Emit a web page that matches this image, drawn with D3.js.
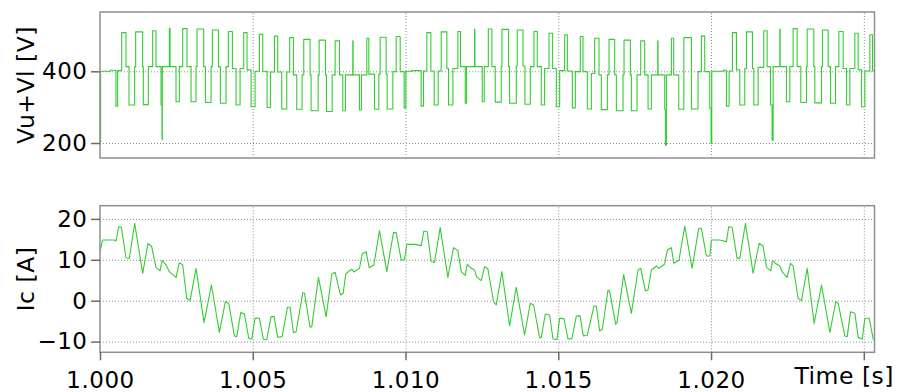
<!DOCTYPE html>
<html>
<head>
<meta charset="utf-8">
<script src="https://cdn.jsdelivr.net/npm/d3@7"></script>
<style>
  html, body { margin: 0; padding: 0; background: #fff; }
  svg { display: block; }
  text { font-family: "DejaVu Sans", Verdana, sans-serif; fill: #000; letter-spacing: 0.5px; }
</style>
</head>
<body>
<svg id="chart" width="898" height="392"></svg>
<script>
// Time origin of the record and the axis ticks
const t0 = 1.0;                                        // s
const timeTicks = [1.000, 1.005, 1.010, 1.015, 1.020, 1.025];
const timeEnd = 1.02535;                              // s
const voltTicks = [200, 400];
const curTicks = [-10, 0, 10, 20];

// Vu+Vl : switching levels, each value held from its instant until the next one (ms after t0, V)
const voltTimeMs = [
  0.000, 0.005, 0.020, 0.350, 0.523, 0.578, 0.709, 0.851, 0.949, 1.134,
  1.167, 1.396, 1.418, 1.582, 1.724, 1.833, 1.997, 2.030, 2.041, 2.270,
  2.292, 2.488, 2.597, 2.707, 2.848, 2.980, 3.143, 3.176, 3.394, 3.449,
  3.635, 3.678, 3.875, 3.940, 4.126, 4.202, 4.333, 4.454, 4.585, 4.704,
  4.813, 4.945, 5.076, 5.218, 5.327, 5.469, 5.578, 5.709, 5.818, 5.949,
  6.113, 6.210, 6.331, 6.440, 6.615, 6.669, 6.877, 6.910, 7.139, 7.172,
  7.379, 7.412, 7.598, 7.696, 7.838, 7.947, 8.034, 8.274, 8.285, 8.493,
  8.558, 8.733, 8.799, 8.984, 9.126, 9.170, 9.366, 9.399, 9.585, 9.694,
  9.825, 9.956, 10.010, 10.200, 10.513, 10.589, 10.698, 10.829, 10.938, 11.069,
  11.168, 11.353, 11.408, 11.550, 11.714, 11.801, 11.954, 11.997, 12.259, 12.270,
  12.511, 12.576, 12.710, 12.828, 12.937, 13.134, 13.156, 13.374, 13.407, 13.625,
  13.658, 13.844, 13.909, 14.084, 14.204, 14.313, 14.444, 14.553, 14.695, 14.815,
  14.935, 15.045, 15.208, 15.296, 15.459, 15.558, 15.721, 15.809, 15.951, 16.082,
  16.191, 16.333, 16.409, 16.606, 16.660, 16.846, 16.901, 17.119, 17.152, 17.359,
  17.392, 17.578, 17.698, 17.829, 17.938, 18.047, 18.255, 18.266, 18.484, 18.506,
  18.538, 18.702, 18.778, 18.942, 19.110, 19.357, 19.575, 19.685, 19.794, 19.958,
  20.001, 20.023, 20.400, 20.504, 20.591, 20.700, 20.831, 20.940, 21.104, 21.159,
  21.355, 21.399, 21.541, 21.726, 21.836, 21.945, 21.999, 22.032, 22.250, 22.261,
  22.469, 22.578, 22.687, 22.818, 22.938, 23.124, 23.146, 23.364, 23.397, 23.615,
  23.648, 23.833, 23.910, 24.074, 24.183, 24.325, 24.434, 24.543, 24.707, 24.816,
  24.925, 25.035, 25.198, 25.285, 25.350
];
const voltLevel = [
  301, 200, 400, 403, 303, 402, 508, 413, 306, 413,
  510, 413, 307, 413, 513, 413, 306, 210, 413, 520,
  413, 315, 413, 519, 413, 315, 413, 518, 413, 313,
  413, 515, 413, 311, 413, 511, 408, 306, 408, 508,
  404, 301, 400, 503, 400, 299, 398, 498, 398, 295,
  398, 494, 390, 294, 390, 489, 390, 290, 390, 487,
  390, 288, 390, 485, 390, 290, 390, 485, 390, 292,
  390, 492, 392, 294, 392, 495, 392, 295, 399, 497,
  399, 298, 400, 402, 303, 401, 508, 401, 306, 401,
  510, 408, 306, 408, 511, 413, 311, 413, 517, 413,
  315, 413, 518, 413, 314, 413, 517, 413, 311, 415,
  515, 415, 308, 413, 511, 413, 306, 408, 506, 408,
  301, 402, 502, 401, 298, 399, 497, 399, 295, 394,
  492, 390, 293, 390, 489, 390, 290, 390, 487, 390,
  290, 390, 485, 390, 295, 390, 485, 390, 294, 194,
  390, 492, 390, 294, 494, 295, 399, 498, 399, 297,
  199, 400, 403, 303, 401, 508, 404, 306, 408, 510,
  408, 306, 411, 513, 413, 306, 208, 413, 518, 413,
  315, 413, 519, 413, 313, 413, 518, 413, 312, 413,
  515, 413, 311, 413, 511, 408, 306, 408, 506, 404,
  301, 401, 502, 401, 401
];

// Ic : sampled current (ms after t0, A)
const curTimeMs = [
  0.000, 0.087, 0.469, 0.523, 0.611, 0.698, 0.851, 0.960, 1.135, 1.397,
  1.571, 1.692, 1.834, 1.965, 2.030, 2.161, 2.270, 2.489, 2.598, 2.707,
  2.838, 2.947, 3.144, 3.406, 3.646, 3.908, 4.104, 4.214, 4.399, 4.476,
  4.607, 4.727, 4.869, 4.967, 5.076, 5.218, 5.349, 5.458, 5.600, 5.698,
  5.818, 5.960, 6.135, 6.222, 6.331, 6.419, 6.637, 6.692, 6.877, 6.932,
  7.150, 7.401, 7.587, 7.696, 7.871, 7.958, 8.045, 8.166, 8.253, 8.307,
  8.493, 8.580, 8.711, 8.810, 8.963, 9.148, 9.388, 9.607, 9.694, 9.858,
  9.967, 10.043, 10.316, 10.513, 10.600, 10.709, 10.840, 10.949, 11.135, 11.386,
  11.572, 11.714, 11.823, 11.954, 12.019, 12.150, 12.259, 12.325, 12.477, 12.587,
  12.696, 12.882, 12.969, 13.155, 13.406, 13.624, 13.897, 14.083, 14.192, 14.389,
  14.443, 14.574, 14.716, 14.826, 14.957, 15.044, 15.186, 15.317, 15.448, 15.590,
  15.710, 15.819, 15.950, 16.168, 16.245, 16.354, 16.442, 16.628, 16.683, 16.879,
  16.923, 17.141, 17.392, 17.611, 17.698, 17.851, 17.938, 18.047, 18.211, 18.288,
  18.484, 18.571, 18.702, 18.779, 18.953, 19.139, 19.379, 19.598, 19.685, 19.849,
  19.958, 20.013, 20.286, 20.504, 20.580, 20.689, 20.853, 20.940, 21.126, 21.377,
  21.574, 21.705, 21.814, 21.956, 22.011, 22.142, 22.251, 22.338, 22.491, 22.600,
  22.687, 22.851, 22.961, 23.146, 23.375, 23.616, 23.889, 24.085, 24.161, 24.380,
  24.457, 24.566, 24.708, 24.817, 24.948, 25.035, 25.177, 25.308, 25.340
];
const curAmp = [
  12.0, 14.85, 14.85, 14.6, 18.1, 17.94, 10.5, 10.36, 18.92, 6.7,
  14.0, 13.2, 8.16, 7.27, 9.79, 8.73, 7.1, 5.72, 9.3, 8.73,
  0.58, 0.01, 7.92, -5.37, 3.84, -7.73, -0.23, -0.64, -8.63, -8.79,
  -2.92, -3.25, -9.2, -9.36, -4.23, -4.31, -9.44, -9.52, -3.9, -3.9,
  -8.95, -8.79, -1.62, -1.62, -7.81, -7.6, 1.96, 1.8, -6.51, -6.35,
  5.71, -3.9, 6.53, 6.94, 1.39, 1.8, 6.53, 7.34, 7.67, 7.02,
  7.91, 11.42, 11.99, 8.08, 8.73, 17.12, 7.1, 16.71, 16.63, 9.95,
  9.95, 13.78, 13.78, 13.46, 17.04, 16.88, 9.54, 9.38, 17.86, 5.71,
  12.97, 12.23, 7.1, 6.2, 8.89, 7.91, 7.5, 5.87, 4.9, 8.32,
  7.75, -0.24, -1.05, 7.1, -6.19, 3.27, -8.39, -0.65, -1.05, -9.04,
  -9.04, -3.25, -3.5, -9.37, -9.45, -4.31, -4.39, -9.37, -9.28, -3.74,
  -3.66, -8.63, -8.39, -1.3, -1.3, -7.41, -6.99, 2.62, 2.21, -5.77,
  -5.37, 6.37, -3.09, 7.51, 7.92, 2.38, 2.62, 7.51, 8.49, 7.92,
  8.98, 12.4, 12.97, 9.14, 9.96, 18.27, 7.92, 17.7, 17.7, 10.93,
  10.93, 14.85, 14.85, 14.44, 18.1, 17.94, 10.36, 10.36, 18.92, 6.7,
  14.03, 13.38, 8.16, 7.35, 9.79, 8.98, 8.49, 6.94, 5.72, 9.14,
  8.49, 0.58, 0.01, 7.92, -5.53, 3.84, -7.73, -0.23, -0.64, -8.63,
  -8.79, -2.68, -3.09, -9.03, -9.36, -4.31, -4.31, -9.44, -9.44
];

const voltSeries = voltTimeMs.map((ms, i) => ({ t: t0 + ms / 1000, v: voltLevel[i] }));
const curSeries = curTimeMs.map((ms, i) => ({ t: t0 + ms / 1000, v: curAmp[i] }));

// ---- layout ----
const left = 100, right = 874.5;
const top1 = { y0: 12, y1: 158 };
const top2 = { y0: 205.7, y1: 352.3 };
const green = "#33cc33";
const frameColor = "#8f8f8f";
const gridColor = "#8a8a8a";
const tickColor = "#6b6b6b";

const svg = d3.select("#chart");

const x = d3.scaleLinear().domain([t0, timeEnd]).range([left, right]);
const yV = d3.scaleLinear().domain([158.2, 565.4]).range([top1.y1, top1.y0]);
const yI = d3.scaleLinear().domain([-12.62, 23.23]).range([top2.y1, top2.y0]);

function panel(y, panelBox, ticks, title, series, curve) {
  const g = svg.append("g");
  const h = panelBox.y1 - panelBox.y0;

  // dotted grid: horizontal
  g.append("g")
    .attr("transform", `translate(${left},0)`)
    .call(d3.axisLeft(y).tickValues(ticks).tickSize(-(right - left)).tickFormat(""))
    .call(s => s.select(".domain").remove())
    .call(s => s.selectAll("line").attr("stroke", gridColor).attr("stroke-dasharray", "1,2").attr("stroke-width", 1));

  // dotted grid: vertical
  g.append("g")
    .attr("transform", `translate(0,${panelBox.y1})`)
    .call(d3.axisBottom(x).tickValues(timeTicks.slice(1)).tickSize(-h).tickFormat(""))
    .call(s => s.select(".domain").remove())
    .call(s => s.selectAll("line").attr("stroke", gridColor).attr("stroke-dasharray", "1,2").attr("stroke-width", 1));

  // trace
  const clipId = "clip" + Math.round(panelBox.y0);
  svg.append("clipPath").attr("id", clipId)
    .append("rect").attr("x", left).attr("y", panelBox.y0).attr("width", right - left).attr("height", h);
  g.append("path")
    .datum(series)
    .attr("clip-path", `url(#${clipId})`)
    .attr("fill", "none")
    .attr("stroke", green)
    .attr("stroke-width", 1.1)
    .attr("stroke-linejoin", "round")
    .attr("d", d3.line().x(d => x(d.t)).y(d => y(d.v)).curve(curve));

  // frame
  g.append("rect")
    .attr("x", left).attr("y", panelBox.y0)
    .attr("width", right - left).attr("height", h)
    .attr("fill", "none").attr("stroke", frameColor).attr("stroke-width", 1.5);

  // left axis ticks and labels
  g.append("g")
    .attr("transform", `translate(${left},0)`)
    .call(d3.axisLeft(y).tickValues(ticks).tickSize(9).tickPadding(3.5).tickFormat(d3.format("d")))
    .call(s => s.select(".domain").remove())
    .call(s => s.selectAll("line").attr("stroke", tickColor).attr("stroke-width", 1.5))
    .call(s => s.selectAll("text").attr("fill", "#000").style("font-size", "23px").attr("font-family", null));

  // axis title
  g.append("text")
    .attr("transform", `translate(34,${(panelBox.y0 + panelBox.y1) / 2}) rotate(-90)`)
    .attr("text-anchor", "middle")
    .style("font-size", "23.5px")
    .text(title);
}

panel(yV, top1, voltTicks, "Vu+Vl [V]", voltSeries, d3.curveStepAfter);
panel(yI, top2, curTicks, "Ic [A]", curSeries, d3.curveLinear);

// time axis under the lower panel
svg.append("g")
  .attr("transform", `translate(0,${top2.y1})`)
  .call(d3.axisBottom(x).tickValues(timeTicks).tickSize(8)
    .tickFormat(d => d > 1.024 ? "" : d3.format(".3f")(d)))
  .call(s => s.select(".domain").remove())
  .call(s => s.selectAll("line").attr("stroke", tickColor).attr("stroke-width", 1.5))
  .call(s => s.selectAll("text").attr("fill", "#000").attr("dy", null).attr("y", 35.7)
    .style("font-size", "23px").attr("font-family", null));

svg.append("text")
  .attr("x", 894).attr("y", 383.5)
  .attr("text-anchor", "end")
  .style("font-size", "23.5px")
  .text("Time [s]");
</script>
</body>
</html>
